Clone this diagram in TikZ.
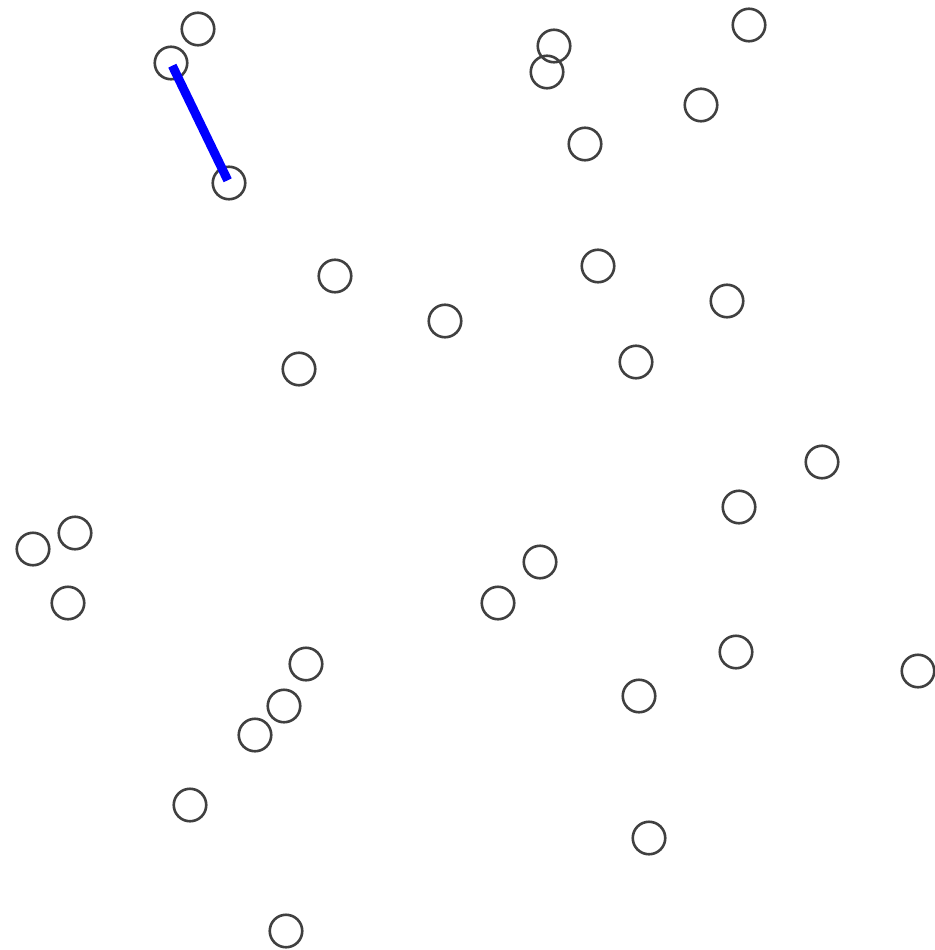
\documentclass[tikz,border=0pt]{standalone}
\begin{document}
\begin{tikzpicture}[x=1pt,y=-1pt,
  dot/.style={circle,draw=black!75,line width=2.6pt,minimum size=32.5pt,inner sep=0pt,fill=none},
  link/.style={draw=blue,line width=9pt,shorten <=3pt,shorten >=3pt}]
\useasboundingbox (0,0) rectangle (934,950);
\node[dot] (c1) at (198,29) {};
\node[dot] (c2) at (171,63) {};
\node[dot] (c3) at (229,183) {};
\node[dot] (c4) at (554,46) {};
\node[dot] (c5) at (547,72) {};
\node[dot] (c6) at (749,25) {};
\node[dot] (c7) at (701,105) {};
\node[dot] (c8) at (585,144) {};
\node[dot] (c9) at (335,276) {};
\node[dot] (c10) at (445,321) {};
\node[dot] (c11) at (299,369) {};
\node[dot] (c12) at (598,266) {};
\node[dot] (c13) at (727,301) {};
\node[dot] (c14) at (636,362) {};
\node[dot] (c15) at (822,462) {};
\node[dot] (c16) at (739,507) {};
\node[dot] (c17) at (33,549) {};
\node[dot] (c18) at (75,533) {};
\node[dot] (c19) at (68,603) {};
\node[dot] (c20) at (540,562) {};
\node[dot] (c21) at (498,603) {};
\node[dot] (c22) at (306,664) {};
\node[dot] (c23) at (284,706) {};
\node[dot] (c24) at (255,735) {};
\node[dot] (c25) at (736,652) {};
\node[dot] (c26) at (639,696) {};
\node[dot] (c27) at (918,671) {};
\node[dot] (c28) at (190,805) {};
\node[dot] (c29) at (649,838) {};
\node[dot] (c30) at (286,931) {};
\draw[link] (c2.center) -- (c3.center);
\end{tikzpicture}
\end{document}
